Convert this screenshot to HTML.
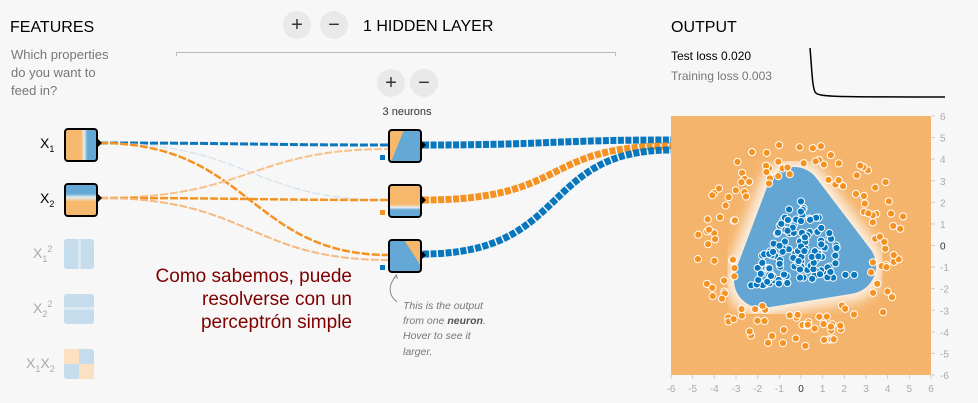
<!DOCTYPE html>
<html><head><meta charset="utf-8"><style>
body{margin:0;width:978px;height:403px;background:#f7f7f7;overflow:hidden;font-family:"Liberation Sans",sans-serif;}
svg{position:absolute;left:0;top:0}
</style></head><body>
<svg width="978" height="403" xmlns="http://www.w3.org/2000/svg" font-family="Liberation Sans, sans-serif">
<defs>
<linearGradient id="gx1" x1="0" x2="1" y1="0" y2="0"><stop offset="0" stop-color="#f6b86c"/><stop offset="0.5" stop-color="#f6b86c"/><stop offset="0.6" stop-color="#e6ecef"/><stop offset="0.7" stop-color="#64a8d6"/><stop offset="1" stop-color="#64a8d6"/></linearGradient>
<linearGradient id="gx2" x1="0" x2="0" y1="0" y2="1"><stop offset="0" stop-color="#64a8d6"/><stop offset="0.3" stop-color="#64a8d6"/><stop offset="0.42" stop-color="#e6ecef"/><stop offset="0.55" stop-color="#f6b86c"/><stop offset="1" stop-color="#f6b86c"/></linearGradient>
<linearGradient id="gn2" x1="0" x2="0" y1="0" y2="1"><stop offset="0" stop-color="#f6b86c"/><stop offset="0.6" stop-color="#f6b86c"/><stop offset="0.7" stop-color="#e6ecef"/><stop offset="0.78" stop-color="#64a8d6"/><stop offset="1" stop-color="#64a8d6"/></linearGradient>
<filter id="bl2" x="-40%" y="-40%" width="180%" height="180%"><feGaussianBlur stdDeviation="6"/></filter>
<clipPath id="pc"><rect x="671" y="116" width="260" height="259"/></clipPath>
</defs>
<text x="10" y="32" font-size="16" fill="#000">FEATURES</text>
<text x="11" y="59" font-size="13" fill="#777">Which properties</text>
<text x="11" y="77" font-size="13" fill="#777">do you want to</text>
<text x="11" y="95" font-size="13" fill="#777">feed in?</text>
<circle cx="297" cy="25" r="14" fill="#e9e9e9"/><text x="297" y="31" font-size="20" text-anchor="middle" fill="#333">+</text>
<circle cx="334" cy="25" r="14" fill="#e9e9e9"/><text x="334" y="31" font-size="20" text-anchor="middle" fill="#333">−</text>
<text x="363" y="31" font-size="16" fill="#000">1  HIDDEN LAYER</text>
<path d="M176.5 56 V52.5 H615.5 V56" fill="none" stroke="#bbb"/>
<circle cx="391" cy="83" r="14" fill="#e9e9e9"/><text x="391" y="89" font-size="20" text-anchor="middle" fill="#333">+</text>
<circle cx="424" cy="83" r="14" fill="#e9e9e9"/><text x="424" y="89" font-size="20" text-anchor="middle" fill="#333">−</text>
<text x="407" y="115" font-size="11" text-anchor="middle" fill="#333">3 neurons</text>
<text x="671" y="32" font-size="16" fill="#000">OUTPUT</text>
<text x="671" y="60" font-size="12" fill="#000">Test loss 0.020</text>
<text x="671" y="80" font-size="12" fill="#777">Training loss 0.003</text>
<path d="M810 48 C812 70 812 85 815 92 C818 97 830 97 945 97" fill="none" stroke="#000" stroke-width="1.5"/>
<g fill="none" stroke-dasharray="8 2">
<path d="M100 143 C250 143 250 145 389 145" stroke="#0877bd" stroke-width="3"/>
<path d="M100 143 C250 143 250 200 389 200" stroke="#d0e2ee" stroke-width="1.2"/>
<path d="M100 143 C250 143 250 255 389 255" stroke="#f59322" stroke-width="2.5"/>
<path d="M100 198 C250 198 250 149 389 149" stroke="#f7c18a" stroke-width="2"/>
<path d="M100 198 C250 198 250 200 389 200" stroke="#f59322" stroke-width="2.5"/>
<path d="M100 198 C250 198 250 260 389 260" stroke="#f5b981" stroke-width="2"/>
</g>
<g fill="none" stroke-dasharray="6 1.5" stroke-width="7">
<path d="M423 145 C550 145 550 140 671 140" stroke="#0877bd"/>
<path d="M423 200 C570 200 540 146 671 146" stroke="#f59322"/>
<path d="M423 254 C570 254 540 150 671 150" stroke="#0877bd"/>
</g>
<text x="40" y="148" font-size="14" fill="#000">X<tspan font-size="9" dy="4">1</tspan></text>
<text x="40" y="203" font-size="14" fill="#000">X<tspan font-size="9" dy="4">2</tspan></text>
<rect x="65" y="129" width="32" height="32" rx="3" fill="url(#gx1)" stroke="#000" stroke-width="2"/>
<rect x="65" y="184" width="32" height="32" rx="3" fill="url(#gx2)" stroke="#000" stroke-width="2"/>
<path d="M98 139 l4 4 l-4 4z M98 194 l4 4 l-4 4z"/>
<g fill="#c5dced"><rect x="64" y="239" width="30" height="30" rx="3"/><rect x="64" y="294" width="30" height="30" rx="3"/><rect x="64" y="349" width="30" height="30" rx="3"/></g>
<rect x="78" y="239" width="3" height="30" fill="#dde9f1"/>
<rect x="64" y="307" width="30" height="3" fill="#dde9f1"/>
<rect x="64" y="349" width="15" height="15" fill="#fbe0c2"/><rect x="79" y="364" width="15" height="15" fill="#fbe0c2"/>
<g fill="#aaa" font-size="14">
<text x="33" y="258">X<tspan font-size="9" dy="4">1</tspan><tspan font-size="9" dy="-10">2</tspan></text>
<text x="33" y="313">X<tspan font-size="9" dy="4">2</tspan><tspan font-size="9" dy="-10">2</tspan></text>
<text x="26" y="368">X<tspan font-size="9" dy="4">1</tspan><tspan dy="-4">X</tspan><tspan font-size="9" dy="4">2</tspan></text>
</g>
<rect x="389" y="130" width="32" height="32" rx="3" fill="#64a8d6"/>
<polygon points="389,130 404,130 391,162 389,162" fill="#f6b86c"/>
<rect x="389" y="185" width="32" height="32" rx="3" fill="url(#gn2)"/>
<rect x="389" y="240" width="32" height="32" rx="3" fill="#64a8d6"/>
<polygon points="404,240 421,240 421,266" fill="#f6b86c"/>
<g fill="none" stroke="#000" stroke-width="2">
<rect x="389" y="130" width="32" height="32" rx="3"/><rect x="389" y="185" width="32" height="32" rx="3"/><rect x="389" y="240" width="32" height="32" rx="3"/></g>
<path d="M422 141 l4 4 l-4 4z M422 196 l4 4 l-4 4z M422 251 l4 4 l-4 4z"/>
<rect x="380" y="155" width="5" height="5" fill="#0877bd"/>
<rect x="380" y="210" width="5" height="5" fill="#f59322"/>
<rect x="380" y="265" width="5" height="5" fill="#0877bd"/>
<path d="M396 276 C388 285 388 295 397 302" fill="none" stroke="#888"/>
<path d="M394 278 l2.5 -3 l0.8 4" fill="none" stroke="#888"/>
<g font-size="10.5" font-style="italic" fill="#777">
<text x="403" y="309">This is the output</text>
<text x="403" y="324">from one <tspan font-weight="bold" fill="#555">neuron</tspan>.</text>
<text x="403" y="339">Hover to see it</text>
<text x="403" y="355">larger.</text>
</g>
<g font-size="19" fill="#7f0000" text-anchor="end">
<text x="352" y="282">Como sabemos, puede</text>
<text x="352" y="305">resolverse con un</text>
<text x="352" y="328">perceptrón simple</text>
</g>
<rect x="671" y="116" width="260" height="259" fill="#f5b46c"/>
<g clip-path="url(#pc)">
<polygon points="794,195 762,280 848,266" fill="#fcf1e4" stroke="#fcf1e4" stroke-width="72" stroke-linejoin="round" filter="url(#bl2)"/>
<polygon points="794,195 762,280 848,266" fill="#63a6d4" stroke="#63a6d4" stroke-width="56" stroke-linejoin="round"/>
<g id="pts" stroke="#fff" stroke-width="1"></g>
</g>
<g font-size="10" fill="#aaa" id="ax"></g>
</svg>
<script>
var ns="http://www.w3.org/2000/svg",g=document.getElementById('pts'),ax=document.getElementById('ax');
var s=12345;function r(){s=(s*1103515245+12345)%2147483648;return s/2147483648;}
function pt(x,y,c){var e=document.createElementNS(ns,'circle');e.setAttribute('cx',801+x*21.7);e.setAttribute('cy',245-y*21.6);e.setAttribute('r',3.6);e.setAttribute('fill',c);g.appendChild(e);}
var A=[0,2.6],B=[-2.7,-2.0],C=[2.6,-1.4];
for(var i=0;i<130;i++){var u=r(),v=r();if(u+v>1){u=1-u;v=1-v;}var x=A[0]+u*(B[0]-A[0])+v*(C[0]-A[0]),y=A[1]+u*(B[1]-A[1])+v*(C[1]-A[1]);pt(x,y,'#0877bd');}
var n=0;while(n<140){var a=r()*6.283,d=3.2+r()*1.7;var x=d*Math.cos(a),y=d*Math.sin(a);
 if(y<3.7 && y>-2.8 && x>-3.1 && x<3.3 && (y< 3.9-1.9*Math.abs(x-0.1)+0.4) ) continue;
 pt(x,y,'#f59322');n++;}
function t(x,y,s,anc,col){var e=document.createElementNS(ns,'text');e.setAttribute('x',x);e.setAttribute('y',y);e.setAttribute('text-anchor',anc);if(col)e.setAttribute('fill',col);e.textContent=s;ax.appendChild(e);}
for(var v=-6;v<=6;v++){var px=671+(v+6)*260/12,py=116+(6-v)*259/12;t(px,392,String(v),'middle',v==0?'#333':null);t(940,py+4,String(v),'start',v==0?'#333':null);
var l=document.createElementNS(ns,'line');l.setAttribute('x1',931);l.setAttribute('x2',935);l.setAttribute('y1',py);l.setAttribute('y2',py);l.setAttribute('stroke','#ccc');ax.appendChild(l);
var l2=document.createElementNS(ns,'line');l2.setAttribute('x1',px);l2.setAttribute('x2',px);l2.setAttribute('y1',375);l2.setAttribute('y2',379);l2.setAttribute('stroke','#ccc');ax.appendChild(l2);}
</script>
</body></html>
